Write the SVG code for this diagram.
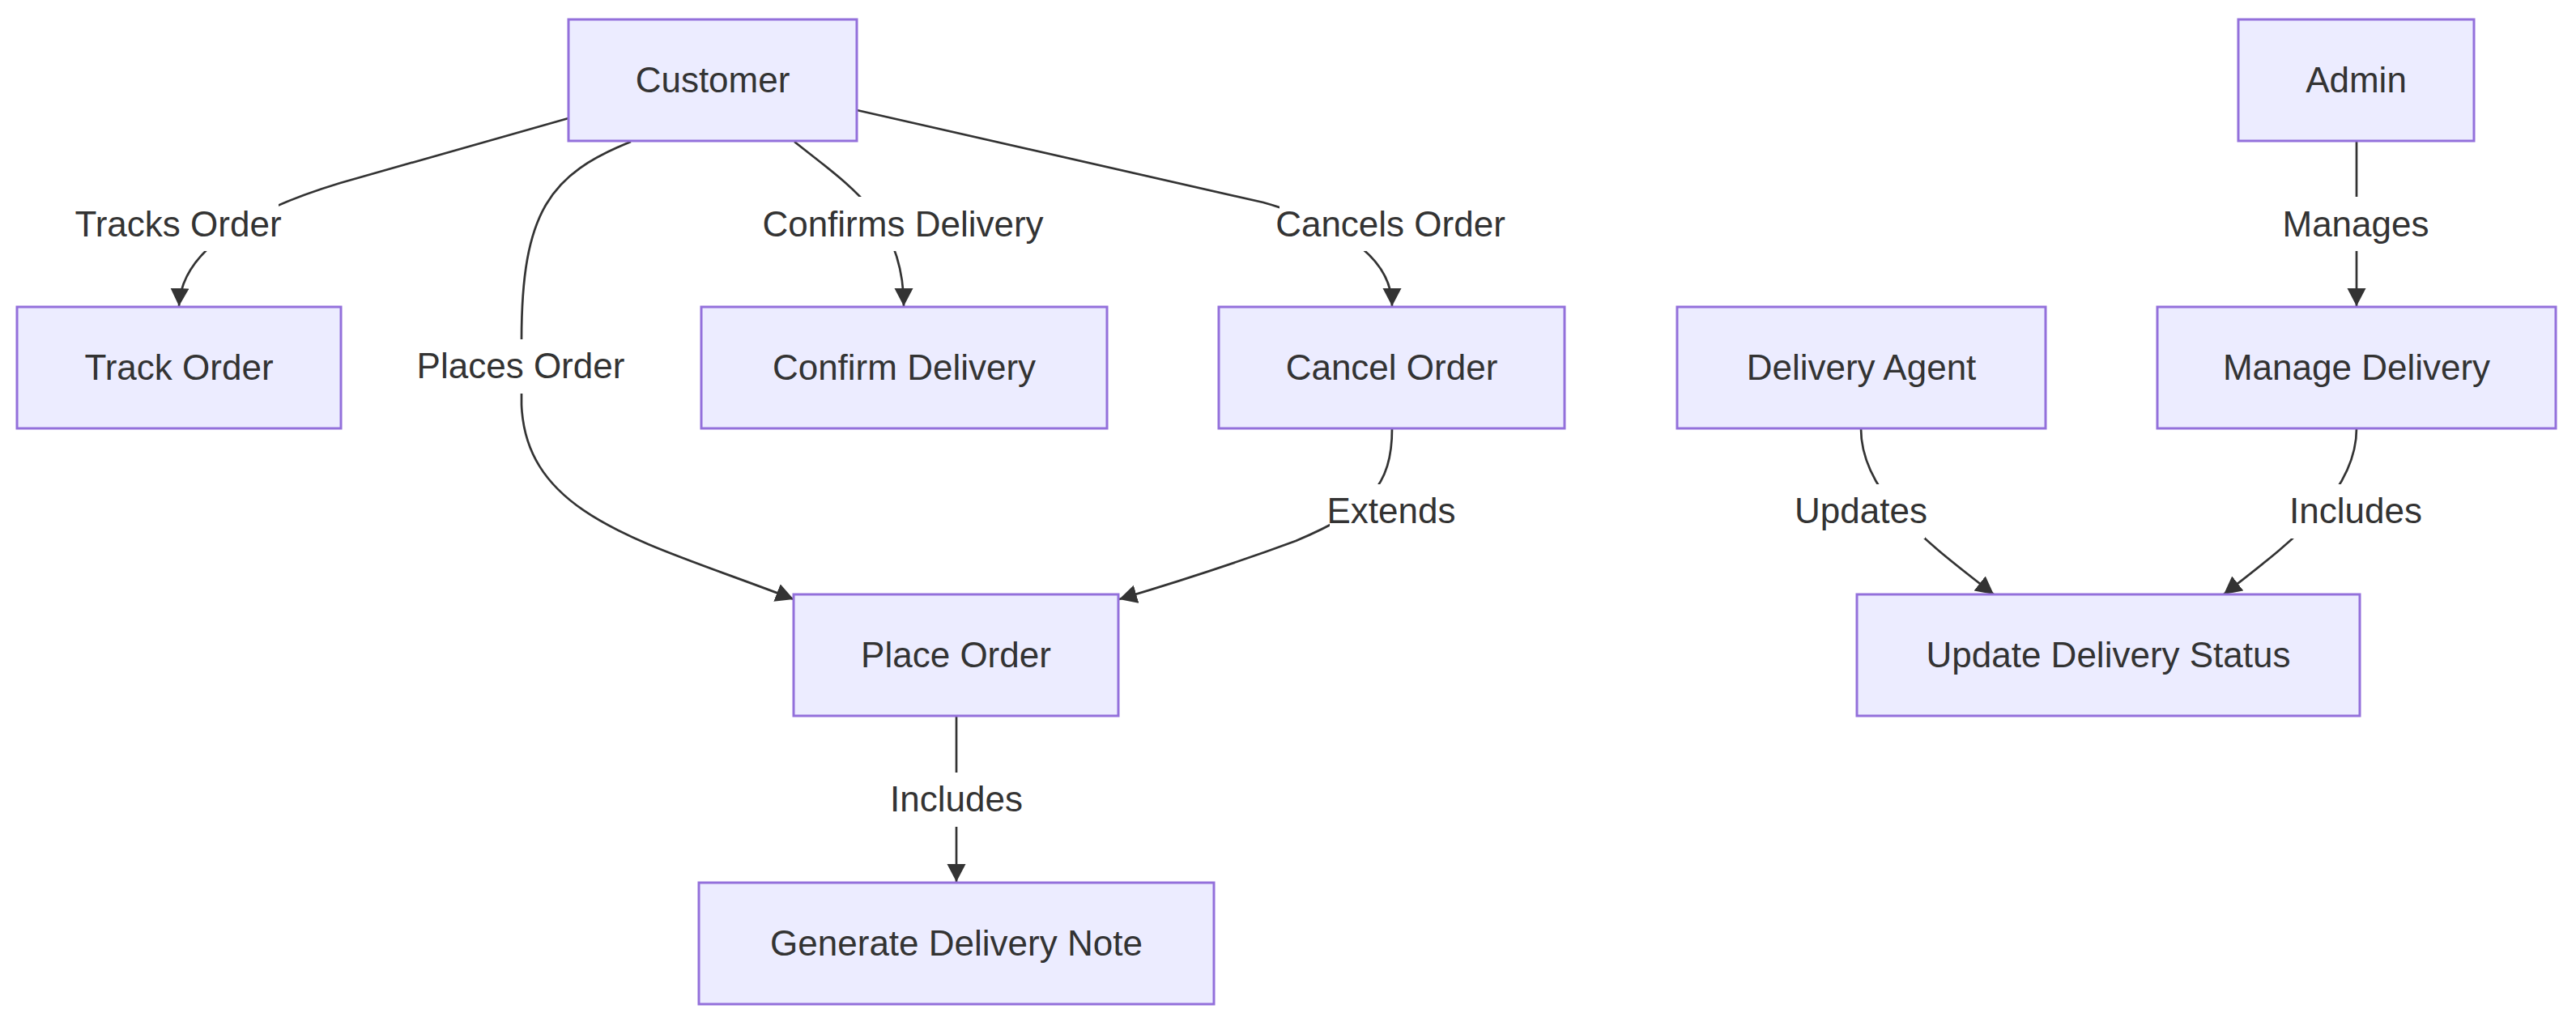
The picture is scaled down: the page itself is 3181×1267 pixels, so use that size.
<svg xmlns="http://www.w3.org/2000/svg" width="3181" height="1267" viewBox="0 0 3181 1267">
<defs>
<style>
.node rect{fill:#ECECFF;stroke:#9370DB;stroke-width:3}
.node text,.elabel text{font-family:"Liberation Sans",Arial,sans-serif;font-size:44px;fill:#333;text-anchor:middle}
.edge{fill:none;stroke:#333;stroke-width:2.7}
.elabel rect{fill:#ffffff}
</style>
<marker id="arrow" markerUnits="userSpaceOnUse" markerWidth="24" markerHeight="24" refX="22" refY="11.5" orient="auto" viewBox="0 0 24 24">
<path d="M0,0 L22,11.5 L0,23 z" fill="#333"/>
</marker>
</defs>
<rect x="0" y="0" width="3181" height="1267" fill="#ffffff"/>
<g id="connectors">
<path class="edge" d="M702,146 L420,226 Q225,285 221,378" marker-end="url(#arrow)"/>
<path class="edge" d="M779,175 C680,215 644,260 644,420 L644,500 C650,640 800,670 980,740" marker-end="url(#arrow)"/>
<path class="edge" d="M981,175 C1050,230 1116,270 1116,378" marker-end="url(#arrow)"/>
<path class="edge" d="M1058,136 L1560,250 Q1719,295 1719,378" marker-end="url(#arrow)"/>
<path class="edge" d="M1719,529 C1719,600 1690,630 1600,668 Q1500,705 1382,740" marker-end="url(#arrow)"/>
<path class="edge" d="M1181,884 L1181,1089" marker-end="url(#arrow)"/>
<path class="edge" d="M2910,174 L2910,378" marker-end="url(#arrow)"/>
<path class="edge" d="M2298,529 C2298,610 2380,670 2462,734" marker-end="url(#arrow)"/>
<path class="edge" d="M2910,529 C2910,610 2828,670 2746,734" marker-end="url(#arrow)"/>
<g class="elabel"><rect x="96" y="243" width="248" height="67"/><text x="220" y="292">Tracks Order</text></g>
<g class="elabel"><rect x="518" y="419" width="250" height="67"/><text x="643" y="467">Places Order</text></g>
<g class="elabel"><rect x="940" y="243" width="350" height="67"/><text x="1115" y="292">Confirms Delivery</text></g>
<g class="elabel"><rect x="1580" y="243" width="275" height="67"/><text x="1717" y="292">Cancels Order</text></g>
<g class="elabel"><rect x="2826" y="243" width="166" height="67"/><text x="2909" y="292">Manages</text></g>
<g class="elabel"><rect x="1642" y="598" width="152" height="67"/><text x="1718" y="646">Extends</text></g>
<g class="elabel"><rect x="2219" y="598" width="158" height="67"/><text x="2298" y="646">Updates</text></g>
<g class="elabel"><rect x="2829" y="598" width="161" height="67"/><text x="2909" y="646">Includes</text></g>
<g class="elabel"><rect x="1101" y="954" width="161" height="67"/><text x="1181" y="1002">Includes</text></g>
</g>
<g id="customer" class="node"><rect x="702" y="24" width="356" height="150"/><text x="880" y="114">Customer</text></g>
<g id="admin" class="node"><rect x="2764" y="24" width="291" height="150"/><text x="2909.5" y="114">Admin</text></g>
<g id="track-order" class="node"><rect x="21" y="379" width="400" height="150"/><text x="221" y="469">Track Order</text></g>
<g id="confirm-delivery" class="node"><rect x="866" y="379" width="501" height="150"/><text x="1116.5" y="469">Confirm Delivery</text></g>
<g id="cancel-order" class="node"><rect x="1505" y="379" width="427" height="150"/><text x="1718.5" y="469">Cancel Order</text></g>
<g id="delivery-agent" class="node"><rect x="2071" y="379" width="455" height="150"/><text x="2298.5" y="469">Delivery Agent</text></g>
<g id="manage-delivery" class="node"><rect x="2664" y="379" width="492" height="150"/><text x="2910" y="469">Manage Delivery</text></g>
<g id="place-order" class="node"><rect x="980" y="734" width="401" height="150"/><text x="1180.5" y="824">Place Order</text></g>
<g id="update-delivery-status" class="node"><rect x="2293" y="734" width="621" height="150"/><text x="2603.5" y="824">Update Delivery Status</text></g>
<g id="generate-delivery-note" class="node"><rect x="863" y="1090" width="636" height="150"/><text x="1181" y="1180">Generate Delivery Note</text></g>
</svg>
